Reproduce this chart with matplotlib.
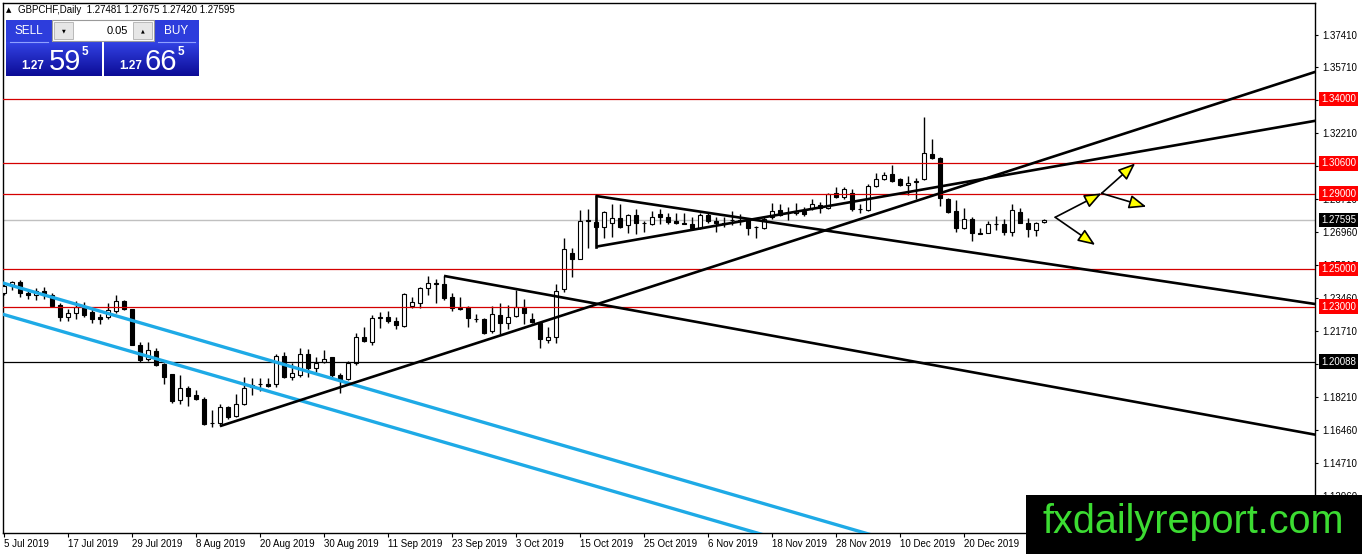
import numpy as np
import matplotlib.pyplot as plt
from matplotlib.colors import LinearSegmentedColormap
from matplotlib.patches import Rectangle, FancyArrowPatch

plt.rcParams['font.family'] = ['Liberation Sans', 'DejaVu Sans']

# GBPCHF daily candles, 5 Jul 2019 onwards (one bar per weekday)
opens = [1.2371, 1.2415, 1.2432, 1.2374, 1.2360, 1.2385, 1.2362, 1.2308, 1.2243, 1.2264,
         1.2303, 1.2273, 1.2243, 1.2243, 1.2278, 1.2331, 1.2287, 1.2099, 1.2020, 1.2066,
         1.1995, 1.1940, 1.1804, 1.1866, 1.1830, 1.1812, 1.1685, 1.1683, 1.1765, 1.1719,
         1.1782, 1.1871, 1.1888, 1.1892, 1.1892, 1.2038, 1.1925, 1.1937, 1.2047, 1.1973,
         1.2005, 1.2031, 1.1937, 1.1915, 1.1999, 1.2141, 1.2114, 1.2238, 1.2243, 1.2224,
         1.2197, 1.2303, 1.2321, 1.2397, 1.2424, 1.2420, 1.2349, 1.2295, 1.2296, 1.2236,
         1.2233, 1.2173, 1.2254, 1.2212, 1.2250, 1.2300, 1.2233, 1.2215, 1.2123, 1.2141,
         1.2392, 1.2583, 1.2555, 1.2756, 1.2751, 1.2724, 1.2746, 1.2768, 1.2733, 1.2786,
         1.2746, 1.2738, 1.2790, 1.2774, 1.2754, 1.2742, 1.2738, 1.2715, 1.2786, 1.2756,
         1.2746, 1.2760, 1.2757, 1.2763, 1.2720, 1.2715, 1.2774, 1.2813, 1.2795, 1.2795,
         1.2809, 1.2822, 1.2839, 1.2822, 1.2901, 1.2880, 1.2901, 1.2816, 1.2813, 1.2940,
         1.2975, 1.3002, 1.2975, 1.2945, 1.2963, 1.2975, 1.3110, 1.3087, 1.2869, 1.2809,
         1.2716, 1.2763, 1.2692, 1.2692, 1.2739, 1.2739, 1.2698, 1.2804, 1.2746, 1.2707,
         1.27481]
highs = [1.2424, 1.2438, 1.2441, 1.2388, 1.2397, 1.2402, 1.2371, 1.2321, 1.2285, 1.2331,
         1.2324, 1.2290, 1.2260, 1.2320, 1.2361, 1.2335, 1.2290, 1.2113, 1.2113, 1.2078,
         1.2002, 1.1945, 1.1936, 1.1878, 1.1857, 1.1821, 1.1751, 1.1786, 1.1772, 1.1839,
         1.1928, 1.1919, 1.1919, 1.1919, 1.2051, 1.2061, 1.1999, 1.2079, 1.2074, 1.2035,
         1.2070, 1.2035, 1.1950, 1.2014, 1.2162, 1.2190, 1.2256, 1.2273, 1.2279, 1.2247,
         1.2374, 1.2353, 1.2406, 1.2463, 1.2445, 1.2463, 1.2371, 1.2349, 1.2303, 1.2261,
         1.2238, 1.2303, 1.2321, 1.2309, 1.2388, 1.2339, 1.2268, 1.2220, 1.2190, 1.2420,
         1.2662, 1.2609, 1.2813, 1.2816, 1.2777, 1.2809, 1.2845, 1.2845, 1.2791, 1.2816,
         1.2756, 1.2809, 1.2816, 1.2799, 1.2795, 1.2799, 1.2774, 1.2795, 1.2799, 1.2777,
         1.2774, 1.2809, 1.2790, 1.2768, 1.2728, 1.2774, 1.2852, 1.2845, 1.2830, 1.2852,
         1.2830, 1.2869, 1.2857, 1.2901, 1.2933, 1.2933, 1.2922, 1.2845, 1.2950, 1.3007,
         1.3016, 1.3051, 1.2981, 1.2993, 1.2981, 1.3304, 1.3188, 1.3096, 1.2875, 1.2866,
         1.2822, 1.2774, 1.2716, 1.2756, 1.2781, 1.2763, 1.2845, 1.2822, 1.2769, 1.2751,
         1.27675]
lows = [1.2362, 1.2388, 1.2349, 1.2339, 1.2335, 1.2339, 1.2296, 1.2225, 1.2225, 1.2236,
        1.2243, 1.2214, 1.2207, 1.2236, 1.2267, 1.2282, 1.2096, 1.2007, 1.2012, 1.1984,
        1.1889, 1.1789, 1.1782, 1.1772, 1.1807, 1.1671, 1.1662, 1.1666, 1.1706, 1.1715,
        1.1777, 1.1830, 1.1853, 1.1871, 1.1874, 1.1920, 1.1911, 1.1929, 1.1929, 1.1955,
        1.1999, 1.1915, 1.1840, 1.1911, 1.1990, 1.2114, 1.2097, 1.2185, 1.2215, 1.2180,
        1.2190, 1.2291, 1.2291, 1.2362, 1.2318, 1.2335, 1.2279, 1.2282, 1.2190, 1.2220,
        1.2155, 1.2162, 1.2155, 1.2180, 1.2243, 1.2208, 1.2212, 1.2079, 1.2105, 1.2109,
        1.2380, 1.2456, 1.2551, 1.2609, 1.2707, 1.2662, 1.2668, 1.2715, 1.2689, 1.2686,
        1.2698, 1.2733, 1.2738, 1.2737, 1.2738, 1.2737, 1.2707, 1.2710, 1.2742, 1.2698,
        1.2724, 1.2733, 1.2733, 1.2680, 1.2662, 1.2710, 1.2763, 1.2781, 1.2760, 1.2786,
        1.2781, 1.2813, 1.2795, 1.2816, 1.2875, 1.2869, 1.2809, 1.2799, 1.2809, 1.2933,
        1.2972, 1.2963, 1.2940, 1.2892, 1.2869, 1.2972, 1.3081, 1.2834, 1.2798, 1.2698,
        1.2710, 1.2650, 1.2684, 1.2689, 1.2707, 1.2680, 1.2675, 1.2742, 1.2671, 1.2675,
        1.27420]
closes = [1.2410, 1.2429, 1.2371, 1.2362, 1.2385, 1.2363, 1.2305, 1.2243, 1.2268, 1.2299,
          1.2255, 1.2237, 1.2237, 1.2282, 1.2328, 1.2285, 1.2099, 1.2016, 1.2069, 1.1990,
          1.1928, 1.1800, 1.1866, 1.1827, 1.1812, 1.1680, 1.1684, 1.1768, 1.1715, 1.1781,
          1.1866, 1.1885, 1.1889, 1.1881, 1.2039, 1.1925, 1.1946, 1.2047, 1.1973, 1.2003,
          1.2021, 1.1937, 1.1911, 1.2003, 1.2141, 1.2120, 1.2238, 1.2243, 1.2226, 1.2203,
          1.2367, 1.2326, 1.2397, 1.2424, 1.2420, 1.2344, 1.2291, 1.2290, 1.2238, 1.2233,
          1.2162, 1.2261, 1.2212, 1.2247, 1.2300, 1.2268, 1.2219, 1.2127, 1.2141, 1.2385,
          1.2604, 1.2555, 1.2756, 1.2758, 1.2724, 1.2804, 1.2768, 1.2724, 1.2786, 1.2742,
          1.2745, 1.2777, 1.2777, 1.2751, 1.2742, 1.2741, 1.2715, 1.2786, 1.2756, 1.2746,
          1.2738, 1.2761, 1.2756, 1.2715, 1.2721, 1.2763, 1.2809, 1.2786, 1.2796, 1.2809,
          1.2790, 1.2843, 1.2822, 1.2898, 1.2880, 1.2922, 1.2816, 1.2818, 1.2940, 1.2975,
          1.2998, 1.2968, 1.2945, 1.2958, 1.2964, 1.3113, 1.3087, 1.2875, 1.2804, 1.2716,
          1.2763, 1.2689, 1.2685, 1.2739, 1.2740, 1.2698, 1.2813, 1.2746, 1.2710, 1.2742,
          1.27595]

date_labels = ['5 Jul 2019', '17 Jul 2019', '29 Jul 2019', '8 Aug 2019', '20 Aug 2019',
               '30 Aug 2019', '11 Sep 2019', '23 Sep 2019', '3 Oct 2019', '15 Oct 2019',
               '25 Oct 2019', '6 Nov 2019', '18 Nov 2019', '28 Nov 2019', '10 Dec 2019',
               '20 Dec 2019']
bars_per_label = 8

price_ticks = [1.37410, 1.35710, 1.33960, 1.32210, 1.30460, 1.28710, 1.26960, 1.25210,
               1.23460, 1.21710, 1.19960, 1.18210, 1.16460, 1.14710, 1.12960]
price_tick_labels = ['1.37410', '1.35710', '', '1.32210', '1.30460', '1.28710', '1.26960',
                     '1.25210', '1.23460', '1.21710', '1.19960', '1.18210', '1.16460',
                     '1.14710', '1.12960']

red_levels = [1.34000, 1.30600, 1.29000, 1.25000, 1.23000]
black_level = 1.20088
bid = 1.27595
header = 'GBPCHF,Daily  1.27481 1.27675 1.27420 1.27595'

# drawn objects, as (bar, price) anchor pairs
cyan_rays = [[(-1, 1.2436), (100, 1.1193)], [(-1, 1.2270), (100, 1.1027)]]
black_rays = [[(27, 1.1666), (130, 1.3080)],   # support from Aug low
              [(55, 1.2463), (130, 1.1883)],   # from Sep high
              [(74, 1.2887), (130, 1.2530)],   # triangle top
              [(74, 1.2618), (130, 1.3034)]]   # triangle bottom
triangle_edge = [(74, 1.2618), (74, 1.2887)]
arrows = [[(131.4, 1.2774), (136.4, 1.2627)],
          [(131.4, 1.2774), (137.2, 1.2901)],
          [(137.2, 1.2901), (141.4, 1.3060)],
          [(137.2, 1.2901), (142.8, 1.2830)]]

W, H = 1362, 554
fig = plt.figure(figsize=(W / 100, H / 100), dpi=100)
fig.patch.set_facecolor('white')
ax = fig.add_axes([3 / W, 21 / H, 1312 / W, 530 / H])
ax.set_xlim(-0.125, 163.875)
ax.set_ylim(1.10991, 1.39108)

o = np.array(opens)
h = np.array(highs)
l = np.array(lows)
c = np.array(closes)
x = np.arange(len(c))

# levels
ax.axhline(bid, color='#c0c0c0', lw=1, zorder=1)
for lv in red_levels:
    ax.axhline(lv, color='#d40000', lw=0.9, zorder=5)
ax.axhline(black_level, color='black', lw=0.9, zorder=5)

# candles
ax.vlines(x, l, h, color='black', lw=1, zorder=3)
up = c >= o
ax.bar(x, np.maximum(np.abs(c - o), 0.00004), bottom=np.minimum(o, c), width=0.62,
       color=np.where(up, 'white', 'black'), edgecolor='black', linewidth=0.8, zorder=4)


def ray(pts, color, lw, x_end=175):
    (x0, y0), (x1, y1) = pts
    k = (y1 - y0) / (x1 - x0)
    ax.plot([x0, x_end], [y0, y0 + k * (x_end - x0)], color=color, lw=lw,
            zorder=6, solid_capstyle='butt')


for pts in cyan_rays:
    ray(pts, '#1eaae6', 2.4)
for pts in black_rays:
    ray(pts, 'black', 1.9)
ax.plot(*zip(*triangle_edge), color='black', lw=1.9, zorder=6)

for a, b in arrows:
    ax.add_patch(FancyArrowPatch(a, b, arrowstyle='-|>,head_length=0.95,head_width=0.38',
                                 mutation_scale=11, fc='#ffff00', ec='black', lw=1.2,
                                 shrinkA=0, shrinkB=0, zorder=7))

# axes styling
for sp in ax.spines.values():
    sp.set_color('black')
    sp.set_linewidth(1)
ax.yaxis.tick_right()
ax.set_yticks(price_ticks)
ax.set_yticklabels(price_tick_labels)
ax.tick_params(axis='y', direction='out', length=2.5, width=0.8, pad=2.5, labelsize=7)
ax.set_xticks(np.arange(len(date_labels)) * bars_per_label)
ax.set_xticklabels(date_labels, ha='left')
ax.tick_params(axis='x', direction='out', length=3, width=0.8, pad=1.5, labelsize=7)

ytr = ax.get_yaxis_transform()
for lv, fc in [(p, '#ff0000') for p in red_levels] + [(bid, 'black'), (black_level, 'black')]:
    ax.text(1.0045, lv, f'{lv:.5f}', transform=ytr, ha='left', va='center', fontsize=7,
            color='white', zorder=10, clip_on=False,
            bbox=dict(boxstyle='square,pad=0.22', fc=fc, ec='none'))

# overlay in pixel coordinates: header, trade panel, watermark
ov = fig.add_axes([0, 0, 1, 1], zorder=5)
ov.set_xlim(0, W)
ov.set_ylim(H, 0)
ov.axis('off')
ov.patch.set_alpha(0)

ov.text(6, 10, '▲', fontsize=5, va='center', ha='left', color='black', family='DejaVu Sans')
ov.text(18, 10, header, fontsize=7, va='center', ha='left', color='black')

blue = LinearSegmentedColormap.from_list('b', ['#3242e4', '#0c0c96'])
grad = np.linspace(0, 1, 64).reshape(-1, 1)
for x0, x1 in [(6, 102), (104, 199)]:
    ov.imshow(grad, cmap=blue, extent=(x0, x1, 76, 42), aspect='auto', origin='upper', zorder=1)
for x0, x1, lab in [(6, 52, 'SELL'), (154, 199, 'BUY')]:
    ov.add_patch(Rectangle((x0, 20), x1 - x0, 22, fc='#2d3ddc', ec='none', zorder=1))
    ov.plot([x0 + 4, x1 - 4], [41.5, 41.5], color='#8fa0ff', lw=0.8, zorder=2)
    ov.text((x0 + x1) / 2, 31, lab, fontsize=8.5, color='white', ha='center', va='center', zorder=3)
ov.add_patch(Rectangle((52, 20), 102, 21, fc='white', ec='#9a9a9a', lw=0.8, zorder=1))
for bx, sym in [(54, '▼'), (133, '▲')]:
    ov.add_patch(Rectangle((bx, 22), 19, 17, fc='#e6e6e6', ec='#b0b0b0', lw=0.6, zorder=2))
    ov.text(bx + 9.5, 30.5, sym, fontsize=3.5, ha='center', va='center', color='black',
            family='DejaVu Sans', zorder=3)
ov.text(128, 31, '0.05', fontsize=8, ha='right', va='center', color='black', zorder=3)
for x_small, x_big, big in [(21, 49, '59'), (119, 145, '66')]:
    ov.text(x_small, 69, '1.27', fontsize=8.5, weight='bold', color='white',
            ha='left', va='baseline', zorder=3)
    ov.text(x_big, 70, big, fontsize=21, color='white', ha='left', va='baseline', zorder=3)
    ov.text(x_big + 33, 46, '5', fontsize=8.5, weight='bold', color='white',
            ha='left', va='top', zorder=3)
ov.set_xlim(0, W)
ov.set_ylim(H, 0)

ov.add_patch(Rectangle((1026, 495), W - 1026, H - 495, fc='black', ec='none', zorder=4))
ov.text(1193, 522, 'fxdailyreport.com', fontsize=28.5, color='#3cdc32',
        ha='center', va='center', zorder=5)

fig.savefig('out.png', dpi=100)
